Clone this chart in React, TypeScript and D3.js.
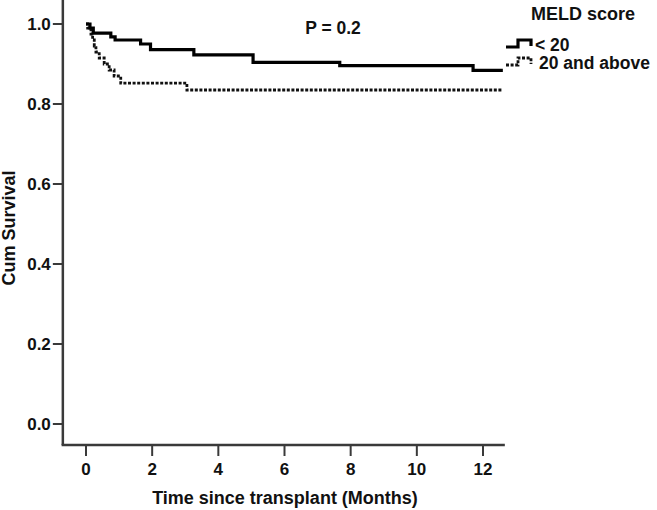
import React, { useEffect, useRef } from "react";
import * as d3 from "d3";

// Kaplan-Meier survival after transplant, split by MELD score
const lowTimes = [0, 0.12, 0.22, 0.75, 0.88, 1.65, 1.95, 3.26, 5.05, 7.67, 11.7, 12.6];
const lowSurv = [1.0, 0.99, 0.977, 0.968, 0.96, 0.95, 0.936, 0.923, 0.904, 0.896, 0.884, 0.884];

const highTimes = [0, 0.05, 0.15, 0.2, 0.25, 0.3, 0.4, 0.55, 0.7, 0.85, 1.05, 3.05, 12.6];
const highSurv = [1.0, 0.99, 0.975, 0.96, 0.945, 0.93, 0.915, 0.9, 0.885, 0.87, 0.852, 0.835, 0.835];

const xTicks = [0, 2, 4, 6, 8, 10, 12];
const yTicks = [0, 0.2, 0.4, 0.6, 0.8, 1.0];
const legendLabels = ["< 20", "20 and above"];

const W = 657;
const H = 510;
const FONT = "'Liberation Sans', Arial, sans-serif";

export default function App() {
  const ref = useRef<SVGSVGElement>(null);

  useEffect(() => {
    const svg = d3.select(ref.current);
    svg.selectAll("*").remove();

    const x = d3.scaleLinear().domain([0, 12]).range([86, 483]);
    const y = d3.scaleLinear().domain([0, 1]).range([424, 24]);
    const axisColor = "#3a3a3a";
    const x0 = x(-0.7);
    const y0 = y(-0.0525);

    // axes lines
    svg.append("line")
      .attr("x1", x0).attr("x2", x0)
      .attr("y1", y(1.06)).attr("y2", y0)
      .attr("stroke", axisColor).attr("stroke-width", 2.5);
    svg.append("line")
      .attr("x1", x0 - 1.25).attr("x2", x(12.66))
      .attr("y1", y0).attr("y2", y0)
      .attr("stroke", axisColor).attr("stroke-width", 2.5);

    // y ticks
    const yt = svg.append("g");
    yt.selectAll("line").data(yTicks).enter().append("line")
      .attr("x1", x0 - 10).attr("x2", x0)
      .attr("y1", d => y(d)).attr("y2", d => y(d))
      .attr("stroke", axisColor).attr("stroke-width", 2);
    yt.selectAll("text").data(yTicks).enter().append("text")
      .attr("x", x0 - 12).attr("y", d => y(d))
      .attr("text-anchor", "end").attr("dominant-baseline", "central")
      .style("font-family", FONT).style("font-weight", "bold").style("font-size", "17px")
      .attr("fill", "#111")
      .text(d => d3.format(".1f")(d));

    // x ticks
    const xt = svg.append("g");
    xt.selectAll("line").data(xTicks).enter().append("line")
      .attr("x1", d => x(d)).attr("x2", d => x(d))
      .attr("y1", y0).attr("y2", y0 + 11)
      .attr("stroke", axisColor).attr("stroke-width", 2);
    xt.selectAll("text").data(xTicks).enter().append("text")
      .attr("x", d => x(d)).attr("y", y0 + 30)
      .attr("text-anchor", "middle")
      .style("font-family", FONT).style("font-weight", "bold").style("font-size", "17px")
      .attr("fill", "#111")
      .text(d => d);

    // axis titles
    svg.append("text")
      .attr("x", 285).attr("y", 504)
      .attr("text-anchor", "middle")
      .style("font-family", FONT).style("font-weight", "bold").style("font-size", "18px")
      .attr("fill", "#111")
      .text("Time since transplant (Months)");
    svg.append("text")
      .attr("transform", `translate(15, 228) rotate(-90)`)
      .attr("text-anchor", "middle")
      .style("font-family", FONT).style("font-weight", "bold").style("font-size", "18px")
      .attr("fill", "#111")
      .text("Cum Survival");

    // survival curves
    const line = d3.line<[number, number]>()
      .x(d => x(d[0]))
      .y(d => y(d[1]))
      .curve(d3.curveStepAfter);

    const low = lowTimes.map((t, i) => [t, lowSurv[i]] as [number, number]);
    const high = highTimes.map((t, i) => [t, highSurv[i]] as [number, number]);

    svg.append("path")
      .attr("d", line(high))
      .attr("fill", "none").attr("stroke", "#111")
      .attr("stroke-width", 2.8).attr("stroke-dasharray", "3,1.6");
    svg.append("path")
      .attr("d", line(low))
      .attr("fill", "none").attr("stroke", "#000")
      .attr("stroke-width", 3.2);

    // p value
    svg.append("text")
      .attr("x", 333).attr("y", 34)
      .attr("text-anchor", "middle")
      .style("font-family", FONT).style("font-weight", "bold").style("font-size", "17.5px")
      .attr("fill", "#111")
      .text("P = 0.2");

    // legend
    svg.append("text")
      .attr("x", 531).attr("y", 20)
      .style("font-family", FONT).style("font-weight", "bold").style("font-size", "18px")
      .attr("fill", "#111")
      .text("MELD score");

    const legendY = [45, 63];
    const lg = svg.append("g");
    lg.append("path")
      .attr("d", `M506,${legendY[0] + 2}H518V${legendY[0] - 5}H531V${legendY[0] + 1}`)
      .attr("fill", "none").attr("stroke", "#000").attr("stroke-width", 3.2);
    lg.append("path")
      .attr("d", `M506,${legendY[1] + 2}H518V${legendY[1] - 5}H531V${legendY[1] + 1}`)
      .attr("fill", "none").attr("stroke", "#111").attr("stroke-width", 2.8)
      .attr("stroke-dasharray", "3,1.6");
    lg.selectAll("text").data(legendLabels).enter().append("text")
      .attr("x", (d, i) => (i === 0 ? 535 : 539))
      .attr("y", (d, i) => legendY[i])
      .attr("dominant-baseline", "central")
      .style("font-family", FONT).style("font-weight", "bold").style("font-size", "17.5px")
      .attr("fill", "#111")
      .text(d => d);
  });

  return (
    <svg
      ref={ref}
      width={W}
      height={H}
      style={{ position: "absolute", left: 0, top: 0, background: "#fff" }}
    />
  );
}
